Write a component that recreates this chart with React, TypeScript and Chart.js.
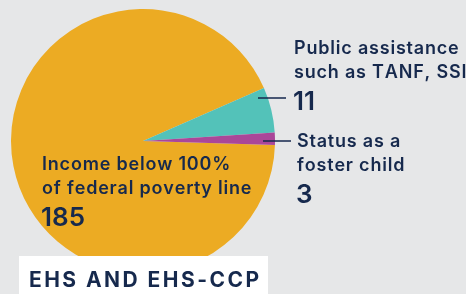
import React, { useEffect, useRef } from "react";
import { Chart, registerables } from "chart.js";

Chart.register(...registerables);

const categories = [
  "Income below 100% of federal poverty line",
  "Public assistance such as TANF, SSI",
  "Status as a foster child",
];
const values = [185, 11, 3];
const colors = ["#ECAB23", "#53C2B9", "#AA4799"];
const labelLines = [
  ["Income below 100%", "of federal poverty line"],
  ["Public assistance", "such as TANF, SSI"],
  ["Status as a", "foster child"],
];
const title = "EHS AND EHS-CCP";

const NAVY = "#16294D";
const FONT = "Inter, 'DejaVu Sans', sans-serif";

function spacedText(ctx: CanvasRenderingContext2D, text: string, x: number, y: number, spacing: number) {
  let cx = x;
  for (const ch of text) {
    ctx.fillText(ch, cx, y);
    cx += ctx.measureText(ch).width + spacing;
  }
}

function naturalWidth(ctx: CanvasRenderingContext2D, text: string) {
  let w = 0;
  for (const ch of text) w += ctx.measureText(ch).width;
  return w;
}

const labelsPlugin = {
  id: "labelsPlugin",
  afterDraw(chart: any) {
    const ctx = chart.ctx as CanvasRenderingContext2D;
    ctx.save();
    ctx.fillStyle = NAVY;
    ctx.textBaseline = "alphabetic";
    ctx.textAlign = "left";

    const drawBlock = (lines: string[], value: number, x: number, y: number) => {
      ctx.font = `600 18px ${FONT}`;
      lines.forEach((l, i) => spacedText(ctx, l, x, y + i * 23.5, 0.8));
      ctx.font = `600 26px ${FONT}`;
      ctx.fillText(String(value), x - 1, y + 23.5 + 32.5);
    };

    drawBlock(labelLines[0], values[0], 42, 170);
    drawBlock(labelLines[1], values[1], 294, 54);
    drawBlock(labelLines[2], values[2], 297, 147);

    ctx.strokeStyle = NAVY;
    ctx.lineWidth = 1.5;
    ctx.beginPath();
    ctx.moveTo(258, 98);
    ctx.lineTo(286, 98);
    ctx.moveTo(263, 141);
    ctx.lineTo(291, 141);
    ctx.stroke();

    ctx.fillStyle = "#FFFFFF";
    ctx.fillRect(19, 256, 249, 40);
    ctx.fillStyle = NAVY;
    ctx.font = `700 21px ${FONT}`;
    const nw = naturalWidth(ctx, title);
    const chars = Array.from(title).length;
    const sp = Math.max(0, (230 - nw) / (chars - 1));
    spacedText(ctx, title, 29, 287, sp);
    ctx.restore();
  },
};

export default function App() {
  const ref = useRef<HTMLCanvasElement | null>(null);
  useEffect(() => {
    document.body.style.margin = "0";
    document.body.style.background = "#E6E7E8";
    if (!ref.current) return;
    const chart = new Chart(ref.current, {
      type: "pie",
      data: {
        labels: categories,
        datasets: [
          {
            data: values,
            backgroundColor: colors,
            borderWidth: 0,
          },
        ],
      },
      options: {
        responsive: false,
        animation: false,
        rotation: 91.7,
        layout: { padding: { left: 11, right: 191, top: 9, bottom: 21 } },
        plugins: {
          legend: { display: false },
          tooltip: { enabled: false },
        },
      },
      plugins: [labelsPlugin],
    });
    return () => chart.destroy();
  }, []);
  return (
    <div style={{ width: 466, height: 294, background: "#E6E7E8" }}>
      <canvas ref={ref} width={466} height={294} style={{ display: "block" }} />
    </div>
  );
}
